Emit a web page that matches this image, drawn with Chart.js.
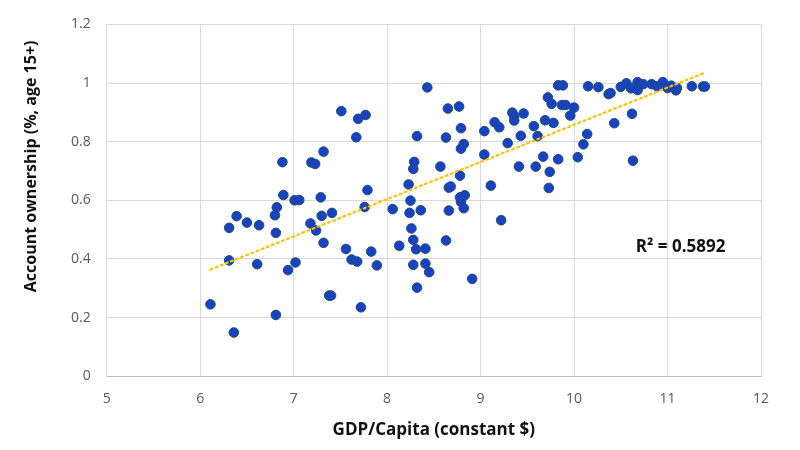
<!DOCTYPE html>
<html>
<head>
<meta charset="utf-8">
<script src="https://cdn.jsdelivr.net/npm/chart.js@4.4.1/dist/chart.umd.min.js"></script>
<style>
  html, body { margin: 0; padding: 0; background: #fff; }
  #wrap { width: 800px; height: 450px; }
</style>
</head>
<body>
<div id="wrap"><canvas id="chart"></canvas></div>
<script>
// log GDP per capita (constant $) and account ownership share
const gdpPerCapita = [
  7.51, 7.69, 7.77, 7.67, 7.32, 6.88, 7.19, 7.23, 7.79, 6.89, 7.01, 7.06, 7.29, 6.82,
  6.80, 7.76, 8.06, 6.39, 6.31, 6.50, 6.63, 6.81, 7.30, 7.41, 7.18, 7.24, 7.32, 7.56,
  7.83, 7.62, 7.68, 7.89, 8.13, 6.31, 6.61, 6.94, 7.02, 7.38, 7.40, 7.72, 6.11, 6.81,
  6.36,
  8.43, 8.65, 8.77, 8.32, 8.63, 8.79, 8.82, 8.79, 8.29, 8.28, 8.57, 8.23, 8.78, 8.66,
  8.68, 8.25, 8.24, 8.36, 8.66, 8.78, 8.83, 8.79, 8.82, 8.26, 8.28, 8.31, 8.41, 8.63,
  8.28, 8.41, 8.45, 8.32, 8.91, 9.11, 9.22, 9.04, 9.04, 9.15, 9.20, 9.29, 9.34, 9.36,
  9.36, 9.46, 9.43, 9.41, 9.57, 9.61, 9.59, 9.67, 9.74, 9.73, 9.69, 9.78, 9.72, 9.76,
  9.83, 9.88, 9.87, 9.91, 9.96, 10.00, 9.83, 10.04,
  10.15, 10.26, 10.37, 10.39, 10.50, 10.56, 10.61, 10.68, 10.68, 10.74, 10.83, 10.89,
  10.95, 11.00, 11.04, 11.09, 11.10, 11.26, 11.38, 11.40, 10.43, 10.62, 10.14, 10.10,
  10.63
];
const accountOwnership = [
  0.904, 0.878, 0.891, 0.815, 0.766, 0.730, 0.729, 0.724, 0.635, 0.618, 0.600, 0.601, 0.610, 0.576,
  0.549, 0.577, 0.570, 0.546, 0.506, 0.524, 0.515, 0.489, 0.547, 0.557, 0.521, 0.497, 0.455, 0.434,
  0.425, 0.398, 0.391, 0.378, 0.445, 0.395, 0.382, 0.362, 0.388, 0.275, 0.275, 0.235, 0.245, 0.209,
  0.149,
  0.985, 0.913, 0.920, 0.819, 0.814, 0.846, 0.792, 0.776, 0.731, 0.707, 0.715, 0.654, 0.684, 0.643,
  0.647, 0.599, 0.557, 0.566, 0.565, 0.610, 0.617, 0.595, 0.573, 0.504, 0.465, 0.433, 0.435, 0.463,
  0.380, 0.384, 0.355, 0.302, 0.332, 0.650, 0.532, 0.836, 0.756, 0.866, 0.849, 0.795, 0.899, 0.887,
  0.872, 0.896, 0.820, 0.715, 0.853, 0.819, 0.715, 0.749, 0.697, 0.642, 0.873, 0.864, 0.951, 0.929,
  0.992, 0.992, 0.925, 0.925, 0.889, 0.916, 0.740, 0.747,
  0.989, 0.986, 0.962, 0.966, 0.987, 0.999, 0.982, 1.003, 0.976, 0.996, 0.996, 0.989,
  1.003, 0.983, 0.991, 0.975, 0.983, 0.989, 0.988, 0.988, 0.863, 0.895, 0.826, 0.791,
  0.735
];

// linear trendline end points as drawn
const trendX = [6.11, 11.39];
const trendY = [0.364, 1.034];
const rSquaredLabel = 'R² = 0.5892';
const xTitle = 'GDP/Capita (constant $)';
const yTitle = 'Account ownership (%, age 15+)';

const points = gdpPerCapita.map((x, i) => ({ x: x, y: accountOwnership[i] }));
const trend = trendX.map((x, i) => ({ x: x, y: trendY[i] }));

const FONT = '"Open Sans", "Noto Sans", sans-serif';

// R² note plus the two axis titles (placed like the original, y title sits a bit high)
const labelsPlugin = {
  id: 'labels',
  afterDatasetsDraw(chart) {
    const { ctx, scales, chartArea } = chart;
    ctx.save();
    ctx.fillStyle = '#111';
    ctx.textAlign = 'center';
    ctx.textBaseline = 'middle';

    ctx.font = 'bold 17px ' + FONT;
    ctx.fillText(rSquaredLabel, scales.x.getPixelForValue(11.14), scales.y.getPixelForValue(0.44));

    ctx.fillText(xTitle, (chartArea.left + chartArea.right) / 2, chartArea.bottom + 54);

    ctx.font = 'bold 16px ' + FONT;
    ctx.translate(31, chartArea.top + 142);
    ctx.rotate(-Math.PI / 2);
    ctx.fillText(yTitle, 0, 0);
    ctx.restore();
  }
};

new Chart(document.getElementById('chart'), {
  type: 'scatter',
  data: {
    datasets: [
      {
        label: 'Countries',
        data: points,
        backgroundColor: '#1842c2',
        borderColor: '#1d4d78',
        borderWidth: 1,
        pointRadius: 4.8,
        pointHoverRadius: 4.8,
        order: 2
      },
      {
        label: 'Linear trend',
        type: 'line',
        data: trend,
        borderColor: '#FFC000',
        borderWidth: 2.2,
        borderDash: [2, 3.5],
        borderCapStyle: 'round',
        pointRadius: 0,
        fill: false,
        order: 1
      }
    ]
  },
  options: {
    responsive: true,
    maintainAspectRatio: false,
    animation: false,
    layout: {
      padding: { top: 4, right: 39, bottom: 29, left: 55 }
    },
    plugins: {
      legend: { display: false },
      tooltip: { enabled: false }
    },
    scales: {
      x: {
        type: 'linear',
        min: 5,
        max: 12,
        ticks: {
          stepSize: 1,
          color: '#595959',
          font: { family: FONT, size: 14 },
          padding: 14
        },
        grid: {
          color: '#d9d9d9',
          lineWidth: 1,
          drawTicks: false
        },
        border: { color: '#bfbfbf' }
      },
      y: {
        min: 0,
        max: 1.2,
        ticks: {
          stepSize: 0.2,
          color: '#595959',
          font: { family: FONT, size: 14 },
          padding: 16,
          callback: (v) => String(Math.round(v * 10) / 10)
        },
        grid: {
          color: '#d9d9d9',
          lineWidth: 1,
          drawTicks: false
        },
        border: { color: '#d9d9d9' }
      }
    }
  },
  plugins: [labelsPlugin]
});
</script>
</body>
</html>
